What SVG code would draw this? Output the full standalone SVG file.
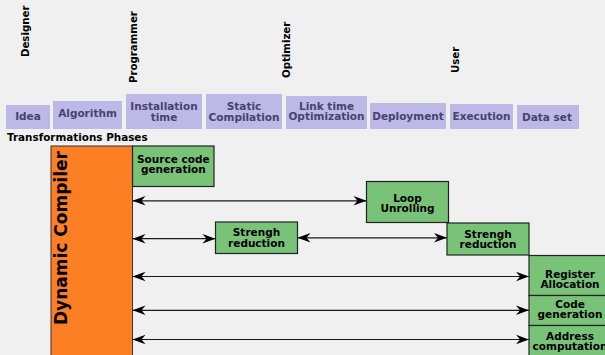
<svg xmlns="http://www.w3.org/2000/svg" width="605" height="355" viewBox="0 0 605 355">
<defs>
<style>
.bg{fill:#f0f0f0}
.phase rect{fill:#bdb9e6}
.phase text{font-family:"DejaVu Sans",sans-serif;font-weight:bold;font-size:10.5px;fill:#47436f;text-anchor:middle}
.role{font-family:"DejaVu Sans",sans-serif;font-weight:bold;font-size:10.2px;fill:#000}
.step rect{fill:#78c378;stroke:#222;stroke-width:1.2}
.step text{font-family:"DejaVu Sans",sans-serif;font-weight:bold;font-size:10.5px;fill:#000;text-anchor:middle}
.conn line{stroke:#1a1a1a;stroke-width:1.2;marker-start:url(#ah);marker-end:url(#ah)}
</style>
<marker id="ah" viewBox="-1 -6 15 12" refX="13" refY="0" markerWidth="15" markerHeight="12" markerUnits="userSpaceOnUse" orient="auto-start-reverse">
<path d="M0,-4.8 L13,0 L0,4.8 L4,0 z" fill="#000"/>
</marker>
</defs>
<rect class="bg" x="0" y="0" width="605" height="355"/>

<g id="roles">
<text class="role" transform="translate(29,57) rotate(-90)">Designer</text>
<text class="role" transform="translate(136.5,83) rotate(-90)">Programmer</text>
<text class="role" transform="translate(289.5,78) rotate(-90)">Optimizer</text>
<text class="role" transform="translate(459,73) rotate(-90)">User</text>
</g>

<g id="phase-idea" class="phase"><rect x="6" y="105" width="44" height="24"/><text x="28" y="120">Idea</text></g>
<g id="phase-algorithm" class="phase"><rect x="53" y="101" width="69" height="28"/><text x="87.5" y="117">Algorithm</text></g>
<g id="phase-installation" class="phase"><rect x="126" y="94" width="76" height="35"/><text x="164" y="110">Installation</text><text x="164" y="120.5">time</text></g>
<g id="phase-static" class="phase"><rect x="206" y="94" width="76" height="35"/><text x="244" y="110">Static</text><text x="244" y="120.5">Compilation</text></g>
<g id="phase-linktime" class="phase"><rect x="286" y="96" width="81" height="33"/><text x="326.5" y="109.5">Link time</text><text x="326.5" y="120">Optimization</text></g>
<g id="phase-deployment" class="phase"><rect x="370" y="103" width="76" height="26"/><text x="408" y="120">Deployment</text></g>
<g id="phase-execution" class="phase"><rect x="450" y="104" width="63" height="25"/><text x="481.5" y="120">Execution</text></g>
<g id="phase-dataset" class="phase"><rect x="517" y="105" width="62" height="24"/><text x="547" y="121">Data set</text></g>

<text id="phases-title" x="7" y="140.5" font-family="DejaVu Sans, sans-serif" font-weight="bold" font-size="10.4px" fill="#000">Transformations Phases</text>

<g id="dynamic-compiler">
<rect x="51" y="146" width="81.5" height="215" fill="#fd7f24" stroke="#333" stroke-width="1"/>
<text transform="translate(67,325) rotate(-90)" font-family="DejaVu Sans, sans-serif" font-weight="bold" font-size="17px" fill="#000">Dynamic Compiler</text>
</g>

<g id="connectors" class="conn">
<line x1="132.5" y1="200.8" x2="366.5" y2="200.8"/>
<line x1="132.5" y1="238.7" x2="215.5" y2="238.7"/>
<line x1="297.5" y1="237.8" x2="447" y2="237.8"/>
<line x1="132.5" y1="276.5" x2="529" y2="276.5"/>
<line x1="132.5" y1="310.3" x2="529" y2="310.3"/>
<line x1="132.5" y1="339.5" x2="529" y2="339.5"/>
</g>

<g id="source-code-generation" class="step"><rect x="132.5" y="146" width="81.5" height="40.5"/><text x="173.3" y="162.5">Source code</text><text x="173.3" y="173">generation</text></g>
<g id="loop-unrolling" class="step"><rect x="366.5" y="181.5" width="82" height="41"/><text x="407.5" y="201.5">Loop</text><text x="407.5" y="212">Unrolling</text></g>
<g id="strength-reduction-1" class="step"><rect x="215.5" y="222" width="82" height="31.5"/><text x="256.5" y="236">Strengh</text><text x="256.5" y="246.5">reduction</text></g>
<g id="strength-reduction-2" class="step"><rect x="447" y="223" width="82" height="32"/><text x="488" y="237.5">Strengh</text><text x="488" y="248">reduction</text></g>
<g id="register-allocation" class="step"><rect x="529" y="255.5" width="82" height="40"/><text x="570" y="277.5">Register</text><text x="570" y="288">Allocation</text></g>
<g id="code-generation" class="step"><rect x="529" y="295.5" width="82" height="30"/><text x="570" y="307.5">Code</text><text x="570" y="318">generation</text></g>
<g id="address-computation" class="step"><rect x="529" y="325.5" width="82" height="40"/><text x="570" y="339.5">Address</text><text x="570" y="350">computation</text></g>
</svg>
